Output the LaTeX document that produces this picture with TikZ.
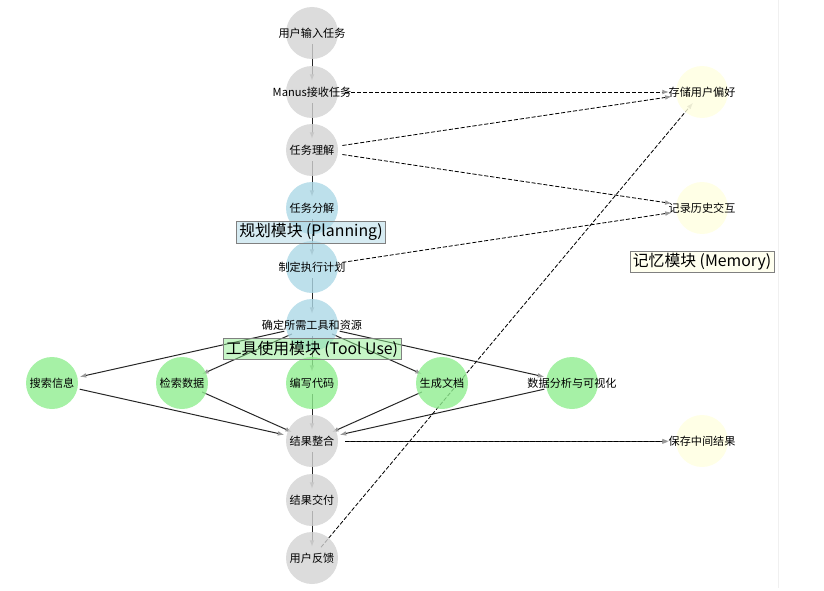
\documentclass[tikz,border=0pt]{standalone}
\usepackage{fontspec}
\setmainfont{Noto Sans CJK SC}
\usetikzlibrary{arrows.meta,shapes.geometric,positioning}
\tikzset{>={Latex[length=5.5pt,width=4pt,color=gray!80]}}
\pgfdeclarelayer{edges}
\pgfdeclarelayer{discs}
\pgfsetlayers{edges,discs,main}
\definecolor{graynode}{HTML}{D3D3D3}
\definecolor{bluenode}{HTML}{ADD8E6}
\definecolor{greennode}{HTML}{90EE90}
\definecolor{yellownode}{HTML}{FFFFE0}
\tikzset{
  vertex/.style={ellipse, inner sep=0pt, minimum width=1.98cm, minimum height=0.66cm,
    label={[font=\fontsize{9.5}{11}\selectfont, inner sep=0pt]center:#1}},
  flow/.style={->, black!85, line width=0.85pt},
  memo/.style={->, black, line width=0.7pt, dash pattern=on 3.5pt off 1.6pt},
  module/.style={draw=gray, line width=0.7pt, fill opacity=0.5, text opacity=1,
    inner xsep=2.5pt, inner ysep=2pt, font=\fontsize{13.5}{16}\selectfont}
}

\begin{document}
\begin{tikzpicture}[x=0.03cm, y=-0.03cm]
\useasboundingbox (0,0) rectangle (824,590);
    % main flow
    \node[vertex=用户输入任务] (input) at (312,33) {};
    \node[vertex=Manus接收任务] (receive) at (312,92) {};
    \node[vertex=任务理解] (understand) at (312,150) {};
    \node[vertex=任务分解] (decompose) at (312,208) {};
    \node[vertex=制定执行计划] (plan) at (312,267) {};
    \node[vertex=确定所需工具和资源] (resources) at (312,325) {};
    % tools
    \node[vertex=搜索信息] (search) at (52,383) {};
    \node[vertex=检索数据] (retrieve) at (182,383) {};
    \node[vertex=编写代码] (code) at (312,383) {};
    \node[vertex=生成文档] (document) at (442,383) {};
    \node[vertex=数据分析与可视化] (analysis) at (572,383) {};
    \node[vertex=结果整合] (integrate) at (312,441) {};
    \node[vertex=结果交付] (deliver) at (312,500) {};
    \node[vertex=用户反馈] (feedback) at (312,558) {};
    % memory
    \node[vertex=存储用户偏好] (prefs) at (702,92) {};
    \node[vertex=记录历史交互] (history) at (702,208) {};
    \node[vertex=保存中间结果] (interim) at (702,441) {};

    % module labels
    \node[module, fill=bluenode] (planbox) at (311,232) {规划模块 (Planning)};
    \node[module, fill=greennode] (toolbox) at (312,349) {工具使用模块 (Tool Use)};
    \node[module, fill=yellownode] (memorybox) at (702,262) {记忆模块 (Memory)};

    \begin{pgfonlayer}{edges}
    \draw[flow] (input) -- (receive);
    \draw[flow] (receive) -- (understand);
    \draw[flow] (understand) -- (decompose);
    \draw[flow] (decompose) -- (plan);
    \draw[flow] (plan) -- (resources);
    \foreach \t in {search,retrieve,code,document,analysis} {
        \draw[flow] (resources) -- (\t);
        \draw[flow] (\t) -- (integrate);
    }
    \draw[flow] (integrate) -- (deliver);
    \draw[flow] (deliver) -- (feedback);
    % memory links
    \draw[memo] (receive) -- (prefs);
    \draw[memo] (understand) -- (prefs);
    \draw[memo] (understand) -- (history);
    \draw[memo] (plan) -- (history);
    \draw[memo] (feedback) -- (prefs);
    \draw[flow] (integrate) -- (interim);
    \draw[memo] ([yshift=-0.6pt]integrate.east) -- ([yshift=-0.6pt]interim.west);
    \draw[gray!12] (778,0) -- (778,588);
    \end{pgfonlayer}

    \begin{pgfonlayer}{discs}
    \foreach \n/\c in {input/graynode,receive/graynode,understand/graynode,
        decompose/bluenode,plan/bluenode,resources/bluenode,
        search/greennode,retrieve/greennode,code/greennode,document/greennode,analysis/greennode,
        integrate/graynode,deliver/graynode,feedback/graynode,
        prefs/yellownode,history/yellownode,interim/yellownode}
        \fill[\c, fill opacity=0.8] (\n) circle[radius=26];
    \end{pgfonlayer}
\end{tikzpicture}
\end{document}
